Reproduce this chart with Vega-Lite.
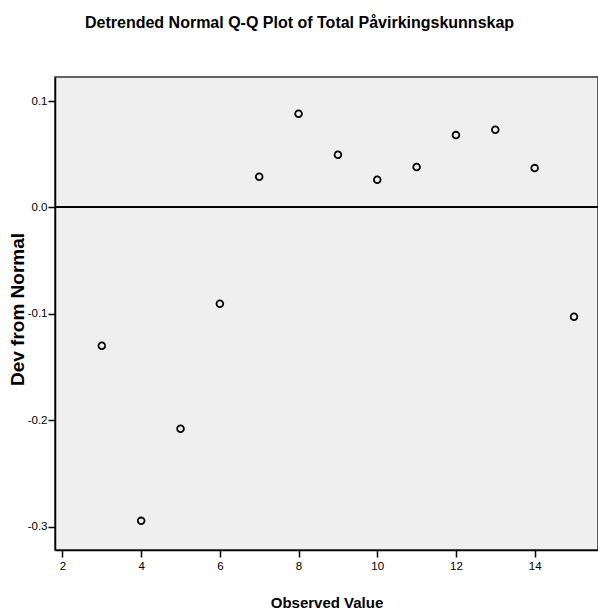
{
  "$schema": "https://vega.github.io/schema/vega-lite/v6.json",
  "autosize": {"type": "none"},
  "width": 543,
  "height": 473,
  "padding": {"left": 55, "top": 77, "right": 0, "bottom": 65},
  "background": "white",
  "title": {
    "text": "Detrended Normal Q-Q Plot of Total Påvirkingskunnskap",
    "font": "Liberation Sans",
    "fontSize": 16,
    "fontWeight": "bold",
    "color": "black",
    "anchor": "start",
    "dx": 77,
    "offset": 46
  },
  "config": {
    "view": {"fill": "#EFEFEF", "stroke": "#333333", "strokeWidth": 1.5},
    "axis": {
      "labelFont": "Liberation Sans",
      "labelFontSize": 11.5,
      "labelColor": "black",
      "titleFont": "Liberation Sans",
      "titleFontWeight": "bold",
      "titleColor": "black",
      "domainColor": "black",
      "domainWidth": 1.5,
      "tickColor": "black",
      "tickWidth": 1.5,
      "tickSize": 7,
      "grid": false
    }
  },
  "data": {
    "values": [
      {"observed": 3, "dev": -0.130},
      {"observed": 4, "dev": -0.2945},
      {"observed": 5, "dev": -0.208},
      {"observed": 6, "dev": -0.0905},
      {"observed": 7, "dev": 0.0289},
      {"observed": 8, "dev": 0.088},
      {"observed": 9, "dev": 0.0495},
      {"observed": 10, "dev": 0.026},
      {"observed": 11, "dev": 0.038},
      {"observed": 12, "dev": 0.068},
      {"observed": 13, "dev": 0.073},
      {"observed": 14, "dev": 0.037},
      {"observed": 15, "dev": -0.1027}
    ]
  },
  "layer": [
    {
      "mark": {"type": "rule", "color": "black", "strokeWidth": 1.3},
      "encoding": {"y": {"datum": 0, "type": "quantitative"}}
    },
    {
      "mark": {"type": "point", "shape": "circle", "filled": false, "color": "black", "size": 45, "strokeWidth": 1.8, "opacity": 1},
      "encoding": {
        "x": {
          "field": "observed",
          "type": "quantitative",
          "scale": {"domain": [1.81, 15.61], "nice": false, "zero": false},
          "axis": {"values": [2, 4, 6, 8, 10, 12, 14], "title": "Observed Value", "titleFontSize": 15, "titlePadding": 24, "labelPadding": 3}
        },
        "y": {
          "field": "dev",
          "type": "quantitative",
          "scale": {"domain": [-0.3219, 0.1226], "nice": false, "zero": false},
          "axis": {
            "values": [-0.3, -0.2, -0.1, 0.0, 0.1],
            "labelExpr": "datum.value < 0 ? '-' + format(-datum.value, '.1f') : format(datum.value, '.1f')",
            "title": "Dev from Normal",
            "titleFontSize": 19,
            "titleX": -38,
            "titleY": 232,
            "titleBaseline": "middle",
            "labelPadding": 1
          }
        }
      }
    }
  ]
}
